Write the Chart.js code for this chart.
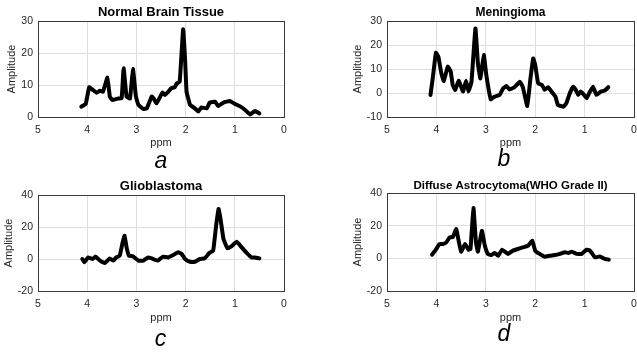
<!DOCTYPE html>
<html><head><meta charset="utf-8">
<script src="https://cdn.jsdelivr.net/npm/chart.js@4"></script>
<style>
html,body{margin:0;padding:0;background:#fff}
body{width:637px;height:352px;overflow:hidden;position:relative;font-family:"Liberation Sans",Arial,sans-serif}
canvas{position:absolute;display:block}
.lbl{position:absolute;font-style:italic;font-size:23px;line-height:23px;color:#000;transform:translate(-50%,-50%)}
</style></head><body>
<canvas id="ca" width="318" height="176" style="left:0;top:0"></canvas>
<canvas id="cb" width="319" height="176" style="left:318px;top:0"></canvas>
<canvas id="cc" width="318" height="176" style="left:0;top:176px"></canvas>
<canvas id="cd" width="319" height="176" style="left:318px;top:176px"></canvas>
<div class="lbl" style="left:161px;top:159.5px">a</div>
<div class="lbl" style="left:504px;top:158px">b</div>
<div class="lbl" style="left:160.5px;top:337.5px">c</div>
<div class="lbl" style="left:504px;top:333px">d</div>
<script>
// ---- data ----
const titles = ["Normal Brain Tissue","Meningioma","Glioblastoma","Diffuse Astrocytoma(WHO Grade II)"];
const xTicks = [5,4,3,2,1,0];
const yTicksA = [0,10,20,30];
const yTicksB = [-10,0,10,20,30];
const yTicksCD = [-20,0,20,40];

const ppmA = [4.12,4.03,3.96,3.88,3.81,3.74,3.68,3.59,3.54,3.49,3.37,3.30,3.26,3.20,3.13,3.07,3.01,2.96,2.86,2.79,2.69,2.65,2.59,2.47,2.42,2.35,2.29,2.22,2.18,2.12,2.05,2.01,1.98,1.91,1.81,1.74,1.68,1.57,1.51,1.40,1.34,1.23,1.10,1.00,0.90,0.79,0.69,0.59,0.50];
const ampA = [3.2,4.1,9.3,8.4,7.6,8.2,7.9,12.3,6.4,5.3,5.8,5.9,15.2,6.4,5.8,15.0,6.4,3.8,2.5,2.7,6.4,5.8,4.3,7.6,6.9,7.9,9.0,9.3,10.5,11.0,27.4,17.8,7.9,3.8,2.7,1.7,3.0,2.7,4.5,4.8,3.4,4.5,5.0,4.1,3.4,2.2,0.8,1.9,1.1];

const ppmB = [4.12,4.07,4.01,3.96,3.90,3.85,3.77,3.71,3.67,3.62,3.55,3.50,3.46,3.40,3.35,3.29,3.21,3.16,3.11,3.04,2.99,2.90,2.82,2.72,2.65,2.58,2.52,2.42,2.31,2.25,2.16,2.10,2.04,2.00,1.94,1.86,1.81,1.74,1.67,1.59,1.54,1.43,1.37,1.30,1.23,1.18,1.13,1.08,1.01,0.96,0.89,0.83,0.76,0.67,0.59,0.52];
const ampB = [-0.8,6.8,16.8,15.1,8.2,5.0,11.0,8.9,3.3,1.3,5.1,2.6,0.6,5.1,0.6,4.7,26.9,12.4,6.1,15.8,7.5,-2.6,-1.5,-0.8,1.9,2.9,1.5,2.4,4.7,2.4,-5.4,5.4,14.4,11.7,4.0,3.3,1.3,2.4,0.6,-1.5,-5.0,-5.7,-4.3,-0.1,2.6,1.3,-0.8,0.6,-0.8,-2.2,0.6,2.6,-0.8,0.6,1.0,2.4];

const ppmC = [4.10,4.06,3.98,3.89,3.83,3.74,3.64,3.54,3.47,3.41,3.34,3.28,3.24,3.20,3.15,3.07,2.96,2.86,2.76,2.66,2.56,2.46,2.35,2.25,2.15,2.08,2.01,1.91,1.81,1.71,1.61,1.52,1.44,1.38,1.33,1.29,1.23,1.15,1.07,0.96,0.86,0.76,0.66,0.59,0.50];
const ampC = [0,-2,1,0,1.5,-1,-2.5,0.4,-1,1,2,10.4,14.6,7.3,2,1.7,-1,-1,1,0,-1,1.5,1,2.5,4.2,3.1,0,-1.7,-1.7,0,0.4,3.8,5.2,20.8,31.3,25,12.5,6.7,7.9,10.8,7.3,3.8,1,1,0.4];

const ppmD = [4.09,4.01,3.94,3.87,3.80,3.73,3.67,3.60,3.57,3.50,3.42,3.35,3.31,3.25,3.20,3.16,3.08,3.02,2.96,2.89,2.82,2.75,2.67,2.55,2.45,2.35,2.25,2.14,2.06,2.00,1.91,1.81,1.71,1.60,1.50,1.40,1.33,1.26,1.16,1.06,0.96,0.89,0.79,0.69,0.59,0.51];
const ampD = [2.2,5.3,8.8,8.8,9.8,12.9,12.9,18,13.9,4.1,8.8,5.3,5.7,30.8,9.8,4.1,16.9,7.8,2.7,2.0,3.3,1.6,5.3,2.7,4.7,5.7,6.7,7.8,10.8,4.7,2.7,1.0,1.6,2.0,2.7,3.7,3.3,4.1,2.7,2.7,5.3,4.7,0.6,1.2,-0.4,-0.8];

// ---- drawing ----
const frame = {
  id:'frame',
  afterDatasetsDraw(chart){
    const a = chart.chartArea, ctx = chart.ctx;
    ctx.save();
    ctx.strokeStyle = '#3a3a3a'; ctx.lineWidth = 1;
    ctx.strokeRect(Math.round(a.left)+0.5, Math.round(a.top)+0.5, Math.round(a.right-a.left), Math.round(a.bottom-a.top));
    ctx.restore();
  }
};

function panel(id, title, ppm, amp, yTicks, g){
  const W = g.W, H = g.H;
  new Chart(document.getElementById(id), {
    type:'line',
    data:{datasets:[{
      data: ppm.map((x,i)=>({x:x, y:amp[i]})),
      borderColor:'#000', borderWidth:4, pointRadius:0, tension:0.1,
      borderJoinStyle:'round', borderCapStyle:'round', fill:false
    }]},
    options:{
      responsive:false, animation:false, devicePixelRatio:1,
      layout:{padding:{left:g.padL, right:W-g.R, top:0, bottom:H-g.xBottom}},
      plugins:{
        legend:{display:false}, tooltip:{enabled:false},
        title:{display:true, text:title, fullSize:false, color:'#000',
          font:{family:'"Liberation Sans", Arial, sans-serif', size:g.tSize, weight:'bold', lineHeight:1.2},
          padding:{top:g.tTop, bottom:g.T - g.tSize*1.2 - g.tTop}}
      },
      scales:{
        x:{type:'linear', reverse:true, min:0, max:5,
          afterBuildTicks(s){ s.ticks = xTicks.map(v=>({value:v})); },
          afterFit(s){ s.height = g.xBottom - g.B; s.paddingLeft=0; s.paddingRight=0; s.paddingTop=0; s.paddingBottom=0; },
          grid:{color:'#dedede', lineWidth:1, drawTicks:false},
          border:{display:false},
          ticks:{color:'#262626', padding:7, maxRotation:0, autoSkip:false,
            font:{family:'"Liberation Sans", Arial, sans-serif', size:10.5}},
          title:{display:true, text:'ppm', color:'#262626', padding:{top:0,bottom:0},
            font:{family:'"Liberation Sans", Arial, sans-serif', size:11, lineHeight:1.2}}
        },
        y:{type:'linear', min:yTicks[0], max:yTicks[yTicks.length-1],
          afterBuildTicks(s){ s.ticks = yTicks.map(v=>({value:v})); },
          afterFit(s){ s.width = g.L - g.padL; s.paddingLeft=0; s.paddingRight=0; s.paddingTop=0; s.paddingBottom=0; },
          grid:{color:'#dedede', lineWidth:1, drawTicks:false},
          border:{display:false},
          ticks:{color:'#262626', padding:5, autoSkip:false,
            font:{family:'"Liberation Sans", Arial, sans-serif', size:10.5}},
          title:{display:true, text:'Amplitude', color:'#262626', padding:{top:0,bottom:0},
            font:{family:'"Liberation Sans", Arial, sans-serif', size:11, lineHeight:1.2}}
        }
      }
    },
    plugins:[frame]
  });
}

panel('ca', titles[0], ppmA, ampA, yTicksA, {W:318,H:176,L:38,R:284,T:21,B:117,padL:5.4,xBottom:149.6,tSize:13,tTop:4.2});
panel('cb', titles[1], ppmB, ampB, yTicksB, {W:319,H:176,L:69,R:316,T:21,B:117,padL:33.7,xBottom:149.6,tSize:12,tTop:5.5});
panel('cc', titles[2], ppmC, ampC, yTicksCD, {W:318,H:176,L:38,R:284,T:19,B:115,padL:2.7,xBottom:148.6,tSize:13,tTop:2.2});
panel('cd', titles[3], ppmD, ampD, yTicksCD, {W:319,H:176,L:69,R:316,T:17,B:115,padL:33.7,xBottom:148.6,tSize:11.5,tTop:3.1});
</script>
</body></html>
